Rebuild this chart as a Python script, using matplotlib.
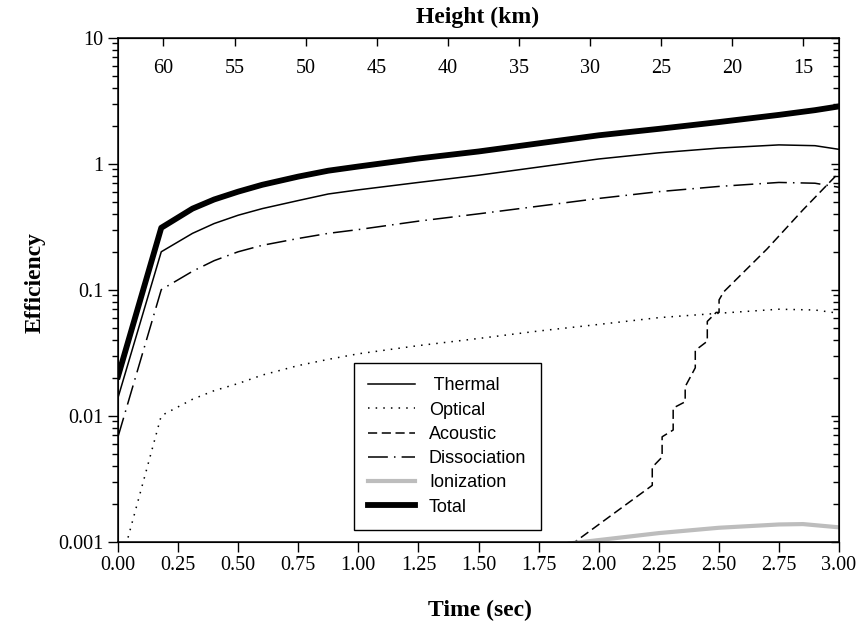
import numpy as np
import matplotlib
matplotlib.use("Agg")
import matplotlib.pyplot as plt
from matplotlib.ticker import FixedLocator, LogLocator, NullFormatter

# data
t = [0, 0.18, 0.31, 0.4, 0.5, 0.6, 0.75, 0.875, 1.0, 1.25, 1.5, 1.75, 2.0, 2.25, 2.5, 2.75, 2.9, 3.0]
thermal = [0.0139, 0.20, 0.28, 0.335, 0.39, 0.44, 0.51, 0.575, 0.62, 0.71, 0.81, 0.94, 1.09, 1.22,
           1.33, 1.41, 1.39, 1.30]
optical = [0.00055, 0.010, 0.0135, 0.0158, 0.018, 0.021, 0.025, 0.028, 0.031, 0.036, 0.041, 0.047,
           0.053, 0.060, 0.065, 0.070, 0.069, 0.065]
dissociation = [0.0068, 0.10, 0.14, 0.17, 0.20, 0.225, 0.255, 0.28, 0.30, 0.35, 0.40, 0.46, 0.53,
                0.60, 0.66, 0.71, 0.70, 0.65]
total = [0.0205, 0.31, 0.44, 0.52, 0.60, 0.68, 0.79, 0.88, 0.95, 1.10, 1.25, 1.45, 1.68, 1.89,
         2.14, 2.44, 2.66, 2.85]

t_acoustic = [1.88, 2.223, 2.223, 2.264, 2.264, 2.310, 2.310, 2.360, 2.360, 2.402, 2.402,
              2.452, 2.452, 2.489, 2.501, 2.501, 2.52, 2.70, 2.85, 3.0]
acoustic = [0.00093, 0.0028, 0.0039, 0.0047, 0.0068, 0.0077, 0.0115, 0.0129, 0.017, 0.024, 0.033,
            0.039, 0.056, 0.066, 0.066, 0.083, 0.096, 0.21, 0.43, 0.85]

t_ion = [1.88, 2.0, 2.25, 2.5, 2.75, 2.85, 3.0]
ionization = [0.00097, 0.00103, 0.00117, 0.00129, 0.00137, 0.00138, 0.0013]

x_ticks = [0, 0.25, 0.5, 0.75, 1.0, 1.25, 1.5, 1.75, 2.0, 2.25, 2.5, 2.75, 3.0]
y_ticks = [0.001, 0.01, 0.1, 1, 10]
y_labels = ["0.001", "0.01", "0.1", "1", "10"]
heights = [60, 55, 50, 45, 40, 35, 30, 25, 20, 15]

plt.rcParams['font.family'] = ['Liberation Serif', 'DejaVu Serif']

fig = plt.figure(figsize=(8.6, 6.29), dpi=100)
ax = fig.add_axes([118/860, 1 - 541.7/629, 721/860, (541.7 - 37.7)/629])

ax.plot(t, thermal, color='black', lw=1.1, label=' Thermal')
ax.plot(t, optical, color='black', lw=1.1, dashes=(1, 4), label='Optical')
ax.plot(t_acoustic, acoustic, color='black', lw=1.1, dashes=(6, 3), label='Acoustic')
ax.plot(t, dissociation, color='black', lw=1.1, dashes=(13, 4, 1, 4), label='Dissociation')
ax.plot(t_ion, ionization, color='#bdbdbd', lw=3, label='Ionization')
ax.plot(t, total, color='black', lw=4.2, label='Total')

ax.set_yscale('log')
ax.set_xlim(0, 3)
ax.set_ylim(0.001, 10)
ax.set_xticks(x_ticks)
ax.set_xticklabels([f"{v:.2f}" for v in x_ticks])
ax.set_yticks(y_ticks)
ax.set_yticklabels(y_labels)
ax.yaxis.set_minor_locator(LogLocator(base=10, subs=np.arange(2, 10)))
ax.yaxis.set_minor_formatter(NullFormatter())
ax.tick_params(axis='both', which='major', labelsize=14.5, direction='out', length=7, width=1)
ax.tick_params(axis='y', which='minor', direction='out', length=4, width=1)
ax.tick_params(top=False, right=False)
for s in ax.spines.values():
    s.set_linewidth(1.1)

# right side: inward ticks, no labels
axr = ax.twinx()
axr.set_yscale('log')
axr.set_ylim(0.001, 10)
axr.set_yticks(y_ticks)
axr.yaxis.set_minor_locator(LogLocator(base=10, subs=np.arange(2, 10)))
axr.yaxis.set_minor_formatter(NullFormatter())
axr.tick_params(axis='y', which='major', direction='in', length=6, width=1, labelright=False)
axr.tick_params(axis='y', which='minor', direction='in', length=4, width=1)
axr.set_yticklabels([])

# top axis: height
def t2h(x):
    return 63.2 - 16.91 * np.asarray(x)

def h2t(h):
    return (63.2 - np.asarray(h)) / 16.91

secx = ax.secondary_xaxis('top', functions=(t2h, h2t))
secx.xaxis.set_major_locator(FixedLocator(heights))
secx.tick_params(axis='x', direction='in', length=6, width=1, labelsize=14.5, pad=-29)

leg = ax.legend(loc='upper left', bbox_to_anchor=(354/860, 1 - 363/629),
                bbox_transform=fig.transFigure, borderaxespad=0,
                prop={'family': 'Liberation Sans', 'size': 13},
                handlelength=2.6, handletextpad=0.75, labelspacing=0.4,
                borderpad=0.8, fancybox=False, framealpha=1, edgecolor='black')
leg.get_frame().set_linewidth(1)

fig.text(480/860, 1 - 610/629, 'Time (sec)', ha='center', va='center', fontsize=17, weight='bold')
fig.text(35/860, 1 - 282/629, 'Efficiency', ha='center', va='center', rotation=90,
         fontsize=17, weight='bold')
fig.text(478/860, 1 - 17/629, 'Height (km)', ha='center', va='center', fontsize=17, weight='bold')

fig.savefig('out.png', dpi=100)
